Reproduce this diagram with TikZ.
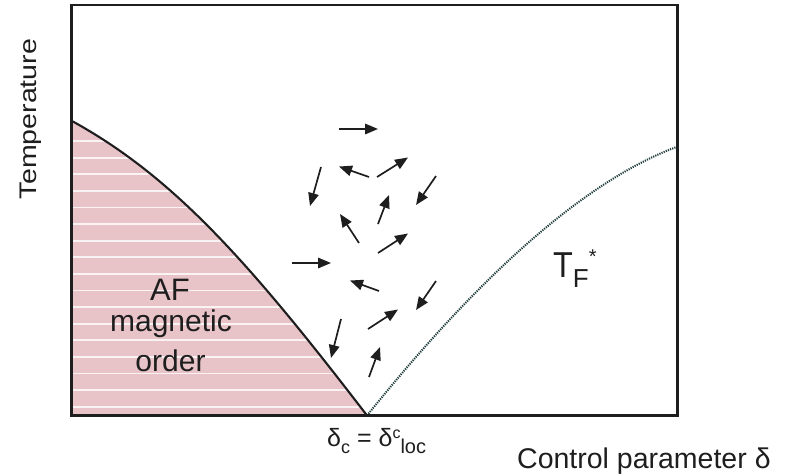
\documentclass[tikz,border=0pt]{standalone}
\usepackage{fontspec}
\setmainfont{Liberation Sans}
\usetikzlibrary{arrows.meta}
\definecolor{afpink}{HTML}{E8C3C8}
\definecolor{ink}{HTML}{1E1E1E}
\definecolor{dotink}{HTML}{1F3C3C}
\tikzset{
  frame/.style={draw=ink, line width=2.2},
  afline/.style={draw=ink, line width=2.1},
  tfline/.style={draw=dotink, line width=2.0, dash pattern=on 1.2 off 1.1},
  spin/.style={draw=ink, line width=1.7, -{Triangle[length=13,width=10.5]}},
  lbl/.style={inner sep=0, text=ink},
  stripe/.style={draw=white, line width=1.8, opacity=0.8}
}
\begin{document}
\begin{tikzpicture}[x=1pt,y=-1pt]
\useasboundingbox (0,0) rectangle (792,475);
% corners and curve points
\coordinate (tl) at (71.5,5);
\coordinate (br) at (677.5,415.5);
\coordinate (afstart) at (72,121);
\coordinate (qcp) at (367,415.5);
\coordinate (origin) at (72,415.5);
\coordinate (tfend) at (676.5,147);
% AF region
\fill[afpink] (afstart) .. controls (172,176) and (247,259) .. (qcp) -- (origin) -- cycle;
\begin{scope}
  \clip (afstart) .. controls (172,176) and (247,259) .. (qcp) -- (origin) -- cycle;
  \foreach \k in {0,...,16} {
    \draw[stripe] (72,{141+16.6*\k}) -- (372,{141+16.6*\k});
  }
\end{scope}
% boundaries
\draw[afline] (afstart) .. controls (172,176) and (247,259) .. (qcp);
\draw[tfline] (qcp) .. controls (440,325) and (560,190) .. (tfend);
% frame
\draw[frame] (tl) rectangle (br);
% spins
\foreach \i/\xa/\ya/\xb/\yb in {
  1/339/129/378/129,
  2/369/177/339/166.5,
  3/377/177/408/157.5,
  4/321/167/310/206,
  5/436/176/416/205,
  6/378/224/389/195,
  7/359/243/340/214,
  8/378/253/408/233.5,
  9/292/263/331/263,
  10/379/291/350/280.5,
  11/436/281/416/310,
  12/368/329/398/309.5,
  13/341/319/331/358,
  14/369/377/380/347} {
  \coordinate (s\i) at (\xa,\ya);
  \coordinate (e\i) at (\xb,\yb);
  \draw[spin] (s\i) -- (e\i);
}
% labels
\node[lbl, rotate=90, font=\fontsize{24}{28}\selectfont] (temp) at (31,119) {\scalebox{1.19}[1]{Temperature}};
\node[lbl, anchor=base, font=\fontsize{31}{36}\selectfont] (af1) at (170,300) {AF};
\node[lbl, anchor=base, font=\fontsize{30}{36}\selectfont] (af2) at (171,331) {magnetic};
\node[lbl, anchor=base, font=\fontsize{30}{36}\selectfont] (af3) at (170.5,371) {order};
\node[lbl, anchor=base west, font=\fontsize{28.5}{34}\selectfont] (xlab) at (517,468) {Control parameter δ};
\node[lbl, anchor=base west, font=\fontsize{25}{30}\selectfont] (dc) at (327,446)
  {δ\raisebox{-7pt}{\fontsize{18}{20}\selectfont c} = δ\raisebox{8pt}{\fontsize{16}{18}\selectfont c}\raisebox{-7pt}{\fontsize{20}{22}\selectfont loc}};
\node[lbl, anchor=base west, font=\fontsize{36}{40}\selectfont] (tf) at (553,277)
  {\scalebox{0.9}[1]{T}\raisebox{-10pt}{\fontsize{26}{28}\selectfont F}\raisebox{14pt}{\fontsize{20}{22}\selectfont *}};
\end{tikzpicture}
\end{document}
